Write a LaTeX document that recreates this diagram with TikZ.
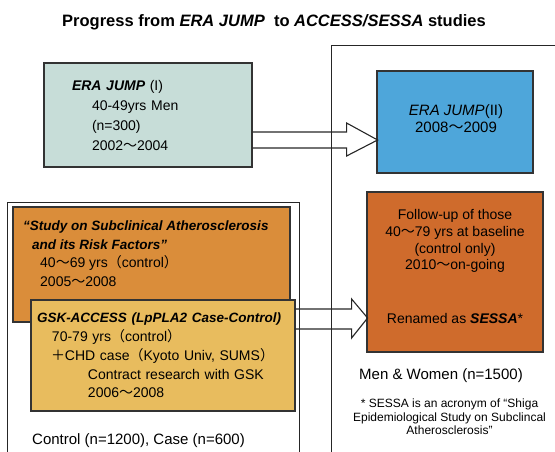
\documentclass[tikz,border=0pt]{standalone}
\usepackage{fontspec}
\setmainfont{Liberation Sans}
\newfontfamily\cjk{Noto Sans CJK JP}
\usetikzlibrary{positioning}

% full width signs as printed
\newcommand{\wave}{{\cjk ～}}
\newcommand{\lpar}{{\cjk （}}
\newcommand{\rpar}{{\cjk ）}}
\newcommand{\fplus}{{\cjk ＋}}

\definecolor{jumpone}{HTML}{C7DDD8}
\definecolor{jumptwo}{HTML}{4EA6DA}
\definecolor{studyfill}{HTML}{DA8D3A}
\definecolor{gskfill}{HTML}{E8BC5E}
\definecolor{sessafill}{HTML}{CF6B2C}

\begin{document}
\begin{tikzpicture}[x=1pt, y=-1pt, every node/.style={inner sep=0pt},
	box/.style={draw=black!80, line width=1.2pt},
	frame/.style={draw=black!85, line width=0.9pt},
	bigarrow/.style={draw=black!85, line width=1.1pt, line join=miter}]
		\useasboundingbox (0,0) rectangle (555,452);

		% Title
		\node[anchor=base, font=\fontsize{16.5}{20}\selectfont\bfseries] (title) at (274,27)
			{Progress from \textit{ERA JUMP}\ \ to \textit{ACCESS/SESSA} studies};

		% Frames (open to the page edge)
		\draw[frame] (7,452) -- (7,202) -- (299,202) -- (299,452);
		\draw[frame] (331,452) -- (331,45) -- (555,45);

		% ERA JUMP boxes
		\node[box, fill=jumpone, minimum width=208, minimum height=104, text width=152, inner xsep=28,
			align=left, font=\fontsize{14}{20}\selectfont] (eraone) at (148,115)
			{\textbf{\textit{ERA JUMP}} (I)\\
			\hspace*{20pt}40-49yrs Men\\
			\hspace*{20pt}(n=300)\\
			\hspace*{20pt}2002\wave2004};
		\node[box, fill=jumptwo, minimum width=156, minimum height=102] (eratwo) at (455,122) {};
		\node[align=center, font=\fontsize{15}{17}\selectfont] (eratwotext) at (456,119)
			{\textit{ERA JUMP}(II)\\2008\wave2009};

		% Study and GSK-ACCESS boxes
		\node[box, fill=studyfill, minimum width=277, minimum height=115] (study) at (151.5,264.5) {};
		\node[anchor=north west, align=left, font=\fontsize{14}{18.5}\selectfont] (studytext) at (23,221)
			{{\fontsize{13.5}{18.5}\selectfont\bfseries\itshape “Study on Subclinical Atherosclerosis}\\
			{\fontsize{13.5}{18.5}\selectfont\bfseries\itshape \hspace*{9pt}and its Risk Factors”}\\
			\hspace*{17pt}40\wave69 yrs\lpar control\rpar\\
			\hspace*{17pt}2005\wave2008};
		\node[box, fill=gskfill, minimum width=264, minimum height=111, text width=252, inner xsep=6,
			align=left, font=\fontsize{14}{18.75}\selectfont] (gsk) at (163,355.5)
			{{\fontsize{13.5}{18.75}\selectfont\bfseries\itshape GSK-ACCESS (LpPLA2 Case-Control)}\\
			\hspace*{15pt}70-79 yrs\lpar control\rpar\\
			\hspace*{14pt}\fplus CHD case\lpar Kyoto Univ, SUMS\rpar\\
			\hspace*{51pt}Contract research with GSK\\
			\hspace*{51pt}2006\wave2008};
		\node[anchor=base west, font=\fontsize{15}{18}\selectfont] (control) at (32,444)
			{Control (n=1200), Case (n=600)};

		% SESSA box
		\node[box, fill=sessafill, minimum width=176, minimum height=160] (sessa) at (455,272) {};
		\node[align=center, font=\fontsize{14}{16.7}\selectfont] (sessatext) at (455,266.5)
			{Follow-up of those\\
			40\wave79 yrs at baseline\\
			(control only)\\
			2010\wave on-going\\[37pt]
			Renamed as \textbf{\textit{SESSA}}*};
		\node[anchor=base, font=\fontsize{15}{18}\selectfont] (menwomen) at (441,379)
			{Men \& Women (n=1500)};
		\node[anchor=north, align=center, font=\fontsize{12}{13.5}\selectfont] (footnote) at (449.5,399)
			{* SESSA is an acronym of “Shiga\\
			Epidemiological Study on Subclincal\\
			Atherosclerosis”};

		% Block arrows
		\draw[bigarrow] ([yshift=-17pt]eraone.east) -- ++(94,0) -- ++(0,-9) -- ++(31,17)
			-- ++(-31,16) -- ++(0,-8) -- ++(-94,0);
		\draw[bigarrow] ([yshift=46.5pt]gsk.east) -- ++(56,0) -- ++(0,-10) -- ++(16,19)
			-- ++(-16,20) -- ++(0,-9) -- ++(-56,0);
	\end{tikzpicture}
\end{document}
